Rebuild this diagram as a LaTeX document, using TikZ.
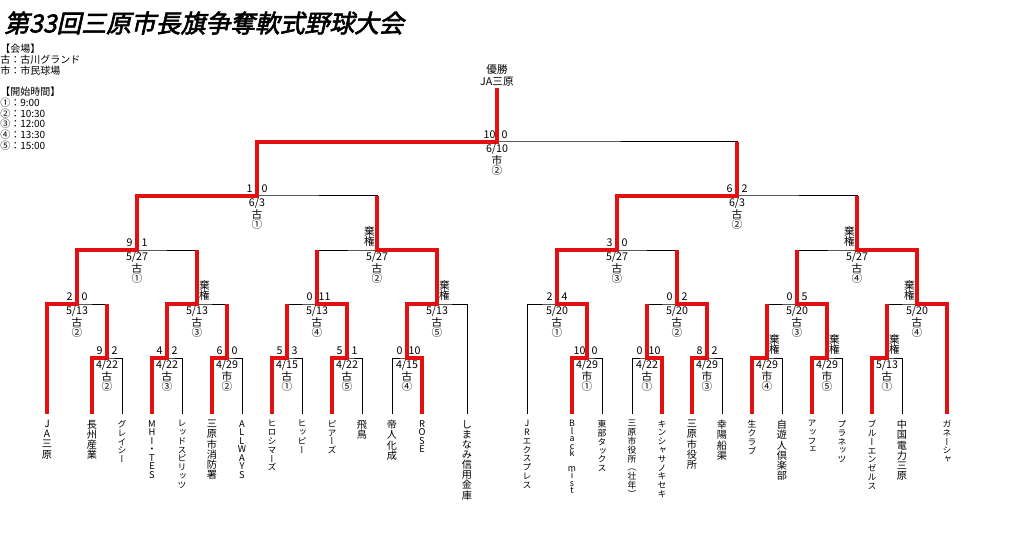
\documentclass[tikz,border=0pt]{standalone}
\usepackage{fontspec}
\usepackage{xcolor}
\usetikzlibrary{calc}
\setmainfont{Noto Sans CJK JP}
\newfontfamily\tatefont[RawFeature=+vert]{Noto Sans CJK JP}
\newfontfamily\titlefont[FakeBold=2.5,FakeSlant=0.22]{Noto Sans CJK JP}
\definecolor{winred}{RGB}{226,16,16}
\newcommand{\kiken}{棄\\権}
\lineskiplimit=-\maxdimen
\tikzset{
  thinline/.style={draw=black, line width=0.75pt},
  winline/.style={draw=winred, line width=2.4pt, line join=miter},
  team/.style={font=\tatefont\fontsize{7.6}{7.6}\selectfont, align=center, inner sep=0pt, anchor=north},
  teamkana/.style={team, font=\tatefont\fontsize{6.6}{6.6}\selectfont},
  teamlatin/.style={team, font=\tatefont\fontsize{7}{6.4}\selectfont},
  teammist/.style={team, font=\tatefont\fontsize{6.6}{5.6}\selectfont},
  score/.style={font=\fontsize{8}{7.6}\selectfont, align=center, inner sep=0pt, anchor=south},
  info/.style={font=\fontsize{8}{8}\selectfont, inner sep=0pt, anchor=base},
  legend/.style={font=\fontsize{7.5}{8}\selectfont, align=left, inner sep=0pt, anchor=north west}
}
\def\bracketdata{m1/L2/L3/L2/n1,m2/L4/L5/L4/n2,m3/L6/L7/L6/n2,m4/L8/L9/L8/n3,m5/L10/L11/L10/n3,m6/L12/L13/L13/n4,%
m7/L16/L17/L16/n5,m8/L18/L19/L19/n6,m9/L20/L21/L20/n6,m10/L22/L23/L22/n7,m11/L24/L25/L24/n7,m12/L26/L27/L26/n8,%
n1/L1/m1/L1/q1,n2/m2/m3/m2/q1,n3/m4/m5/m5/q2,n4/m6/L14/m6/q2,%
n5/L15/m7/m7/q3,n6/m8/m9/m9/q3,n7/m10/m11/m11/q4,n8/m12/L28/L28/q4,%
q1/n1/n2/n1/s1,q2/n3/n4/n4/s1,q3/n5/n6/n5/s2,q4/n7/n8/n8/s2,%
s1/q1/q2/q1/fin,s2/q3/q4/q3/fin,fin/s1/s2/s1/champ}

\begin{document}
\begin{tikzpicture}[x=0.75pt, y=-0.75pt]
\fill[white] (0,0) rectangle (1012,545);
\useasboundingbox (0,0) rectangle (1012,545);

% title and legend
\node[anchor=west, font=\titlefont\fontsize{18.6}{18.6}\selectfont, inner sep=0pt] (title) at (4,23) {第33回三原市長旗争奪軟式野球大会};
\node[legend] (venue) at (0,44) {【会場】\\古：古川グランド\\市：市民球場};
\node[legend] (start) at (0,87) {【開始時間】\\①：9:00\\②：10:30\\③：12:00\\④：13:30\\⑤：15:00};

% leaves
\coordinate (L1) at (47,414);  \coordinate (L2) at (92,414);  \coordinate (L3) at (122,414);
\coordinate (L4) at (152,414); \coordinate (L5) at (182,414); \coordinate (L6) at (212,414);
\coordinate (L7) at (242,414); \coordinate (L8) at (272,414); \coordinate (L9) at (302,414);
\coordinate (L10) at (332,414); \coordinate (L11) at (362,414); \coordinate (L12) at (392,414);
\coordinate (L13) at (422,414); \coordinate (L14) at (467,414);
\coordinate (L15) at (527,414); \coordinate (L16) at (572,414); \coordinate (L17) at (602,414);
\coordinate (L18) at (632,414); \coordinate (L19) at (662,414); \coordinate (L20) at (692,414);
\coordinate (L21) at (722,414); \coordinate (L22) at (752,414); \coordinate (L23) at (782,414);
\coordinate (L24) at (812,414); \coordinate (L25) at (842,414); \coordinate (L26) at (872,414);
\coordinate (L27) at (902,414); \coordinate (L28) at (947,414);

% matches
\coordinate (m1) at (107,358); \coordinate (m2) at (167,358); \coordinate (m3) at (227,358);
\coordinate (m4) at (287,358); \coordinate (m5) at (347,358); \coordinate (m6) at (407,358);
\coordinate (m7) at (587,358); \coordinate (m8) at (647,358); \coordinate (m9) at (707,358);
\coordinate (m10) at (767,358); \coordinate (m11) at (827,358); \coordinate (m12) at (887,358);
\coordinate (n1) at (77,304);  \coordinate (n2) at (197,304); \coordinate (n3) at (317,304);
\coordinate (n4) at (437,304); \coordinate (n5) at (557,304); \coordinate (n6) at (677,304);
\coordinate (n7) at (797,304); \coordinate (n8) at (917,304);
\coordinate (q1) at (137,250); \coordinate (q2) at (377,250);
\coordinate (q3) at (617,250); \coordinate (q4) at (857,250);
\coordinate (s1) at (257,196); \coordinate (s2) at (737,196);
\coordinate (fin) at (497,142);
\coordinate (champ) at (497,88);

% bracket lines, then the winners in red
\foreach \mt/\lc/\rc/\wc/\pm in \bracketdata
  \draw[thinline] (\lc) |- (\mt) -| (\rc);
\foreach \mt/\lc/\rc/\wc/\pm in \bracketdata
  \draw[winline] (\wc) |- (\mt) -- (\mt |- \pm);

% scores, date, venue, start time
\foreach \mt/\sa/\sb/\dt/\ve/\tm in {m1/9/2/{4/22}/古/②,m2/4/2/{4/22}/古/③,m3/6/0/{4/29}/市/②,%
  m4/5/3/{4/15}/古/①,m5/5/1/{4/22}/古/⑤,m6/0/10/{4/15}/古/④,%
  m7/10/0/{4/29}/市/①,m8/0/10/{4/22}/古/①,m9/8/2/{4/29}/市/③,%
  m10//\kiken/{4/29}/市/④,m11//\kiken/{4/29}/市/⑤,m12//\kiken/{5/13}/古/①,%
  n1/2/0/{5/13}/古/②,n2//\kiken/{5/13}/古/③,n3/0/11/{5/13}/古/④,n4//\kiken/{5/13}/古/⑤,%
  n5/2/4/{5/20}/古/①,n6/0/2/{5/20}/古/②,n7/0/5/{5/20}/古/③,n8/\kiken//{5/20}/古/④,%
  q1/9/1/{5/27}/古/①,q2/\kiken//{5/27}/古/②,q3/3/0/{5/27}/古/③,q4/\kiken//{5/27}/古/④,%
  s1/1/0/{6/3}/古/①,s2/6/2/{6/3}/古/②,fin/10/0/{6/10}/市/②}
{
  \node[score] (\mt-a) at ($(\mt)+(-7.5,-3.5)$) {\sa};
  \node[score] (\mt-b) at ($(\mt)+(7.5,-3.5)$) {\sb};
  \node[info] (\mt-d) at ($(\mt)+(0,10.5)$) {\dt};
  \node[info] (\mt-v) at ($(\mt)+(0,22.5)$) {\ve};
  \node[info] (\mt-t) at ($(\mt)+(0,32.5)$) {\tm};
}

\node[info, anchor=south, align=center, font=\fontsize{8}{9}\selectfont] (winner) at ($(champ)+(0,-1)$) {優勝\\JA三原};

% team names
\node[team] (tL1) at ($(L1)+(0,6)$) {J\\A\\三\\原};
\node[team] (tL2) at ($(L2)+(0,6)$) {長\\州\\産\\業};
\node[teamkana] (tL3) at ($(L3)+(0,6)$) {グ\\レ\\イ\\シ\\ー};
\node[teamlatin] (tL4) at ($(L4)+(0,6)$) {M\\H\\I\\・\\T\\E\\S};
\node[teamkana] (tL5) at ($(L5)+(0,6)$) {レ\\ッ\\ド\\ス\\ピ\\リ\\ッ\\ツ};
\node[team] (tL6) at ($(L6)+(0,6)$) {三\\原\\市\\消\\防\\署};
\node[teamlatin] (tL7) at ($(L7)+(0,6)$) {A\\L\\L\\W\\A\\Y\\S};
\node[teamkana] (tL8) at ($(L8)+(0,6)$) {ヒ\\ロ\\シ\\マ\\ー\\ズ};
\node[teamkana] (tL9) at ($(L9)+(0,6)$) {ヒ\\ッ\\ピ\\ー};
\node[teamkana] (tL10) at ($(L10)+(0,6)$) {ピ\\ア\\ー\\ズ};
\node[team] (tL11) at ($(L11)+(0,6)$) {飛\\鳥};
\node[team] (tL12) at ($(L12)+(0,6)$) {帝\\人\\化\\成};
\node[teamlatin] (tL13) at ($(L13)+(0,6)$) {R\\O\\S\\E};
\node[team] (tL14) at ($(L14)+(0,6)$) {し\\ま\\な\\み\\信\\用\\金\\庫};
\node[teamkana] (tL15) at ($(L15)+(0,6)$) {J\\R\\エ\\ク\\ス\\プ\\レ\\ス};
\node[teammist] (tL16) at ($(L16)+(0,6)$) {B\\l\\a\\c\\k\\[5.6pt]m\\i\\s\\t};
\node[teamkana] (tL17) at ($(L17)+(0,6)$) {東\\部\\タ\\ッ\\ク\\ス};
\node[teamkana] (tL18) at ($(L18)+(0,6)$) {三\\原\\市\\役\\所\\（\\壮\\年\\）};
\node[teamkana] (tL19) at ($(L19)+(0,6)$) {キ\\ン\\シ\\ャ\\サ\\ノ\\キ\\セ\\キ};
\node[team] (tL20) at ($(L20)+(0,6)$) {三\\原\\市\\役\\所};
\node[team] (tL21) at ($(L21)+(0,6)$) {幸\\陽\\船\\渠};
\node[teamkana] (tL22) at ($(L22)+(0,6)$) {生\\ク\\ラ\\ブ};
\node[team] (tL23) at ($(L23)+(0,6)$) {自\\遊\\人\\倶\\楽\\部};
\node[teamkana] (tL24) at ($(L24)+(0,6)$) {ア\\ッ\\フ\\ェ};
\node[teamkana] (tL25) at ($(L25)+(0,6)$) {プ\\ラ\\ネ\\ッ\\ツ};
\node[teamkana] (tL26) at ($(L26)+(0,6)$) {ブ\\ル\\ー\\エ\\ン\\ゼ\\ル\\ス};
\node[team] (tL27) at ($(L27)+(0,6)$) {中\\国\\電\\力\\三\\原};
\node[teamkana] (tL28) at ($(L28)+(0,6)$) {ガ\\ネ\\ー\\シ\\ャ};
\end{tikzpicture}
\end{document}
